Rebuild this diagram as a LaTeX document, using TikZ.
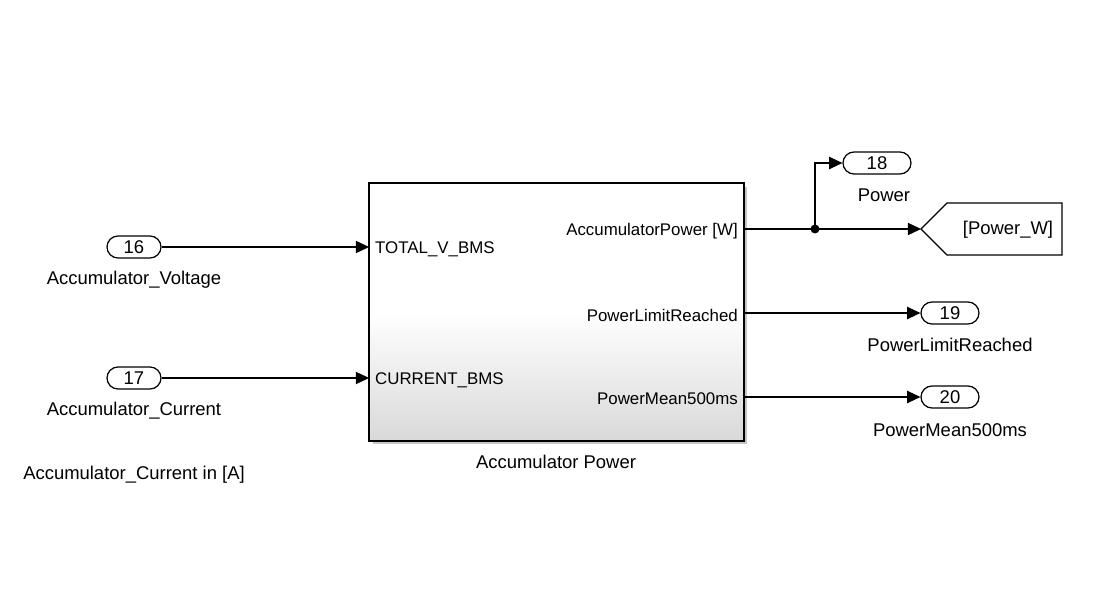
\documentclass[tikz,border=0pt]{standalone}
\usepackage{fontspec}
\setmainfont{Liberation Sans}
\usetikzlibrary{arrows.meta,shadows}

\begin{document}
\begin{tikzpicture}[x=0.02cm, y=-0.02cm,
  font=\fontsize{10.5}{12}\selectfont,
  port/.style={draw, line width=0.7pt, rounded corners=0.22cm, minimum height=0.44cm, inner sep=0pt},
  plabel/.style={font=\fontsize{9.6}{11}\selectfont, yshift=-1.2pt},
  sig/.style={line width=0.6pt, -{Triangle[length=7.5pt,width=7pt]}}]
\useasboundingbox (0,0) rectangle (1117,611);

% the subsystem block
\node[draw, line width=0.7pt, top color=white, bottom color=black!15, middle color=white,
  drop shadow={shadow xshift=2pt, shadow yshift=-2pt, fill=black!45},
  minimum width=7.5cm, minimum height=5.16cm, inner sep=0pt] (blk) at (556.5,312) {};
\node (blkname) at (556,462) {Accumulator Power};

% block ports
\coordinate (in1) at (369,247);
\coordinate (in2) at (369,378);
\coordinate (out1) at (744,229);
\coordinate (out2) at (744,313);
\coordinate (out3) at (744,397);
\node[plabel, anchor=west] (lin1) at (in1) {TOTAL\_V\_BMS};
\node[plabel, anchor=west] (lin2) at (in2) {CURRENT\_BMS};
\node[plabel, anchor=east] (lout1) at (out1) {AccumulatorPower [W]};
\node[plabel, anchor=east] (lout2) at (out2) {PowerLimitReached};
\node[plabel, anchor=east] (lout3) at (out3) {PowerMean500ms};

% inports
\node[port, minimum width=1.08cm] (p16) at (134,247) {16};
\node (n16) at (134,280) {Accumulator\_Voltage};
\node[port, minimum width=1.08cm] (p17) at (134,378) {17};
\node (n17) at (134,411) {Accumulator\_Current};
\node (note) at (134,475) {Accumulator\_Current in [A]};

% outports
\node[port, minimum width=1.36cm] (p18) at (877,163) {18};
\node (n18) at (884,195) {Power};
\node[port, minimum width=1.16cm] (p19) at (950,313) {19};
\node (n19) at (950,345) {PowerLimitReached};
\node[port, minimum width=1.16cm] (p20) at (950,397) {20};
\node (n20) at (950,430) {PowerMean500ms};

% goto tag
\coordinate (gotoTip) at (921,229);
\draw[line width=0.7pt] (gotoTip) -- (947,203) -- (1062,203) -- (1062,255) -- (947,255) -- cycle;
\node (gotoTxt) at (1008,230) {[Power\_W]};

% signals
\coordinate (jct) at (815,229);
\draw[sig] (p16.east) -- (in1);
\draw[sig] (p17.east) -- (in2);
\draw[line width=0.6pt] (out1) -- (jct);
\draw[sig] (jct) -- (gotoTip);
\draw[sig] (jct) |- (p18.west);
\draw[sig] (out2) -- (p19.west);
\draw[sig] (out3) -- (p20.west);
\fill (jct) circle (0.09cm);

\end{tikzpicture}
\end{document}
